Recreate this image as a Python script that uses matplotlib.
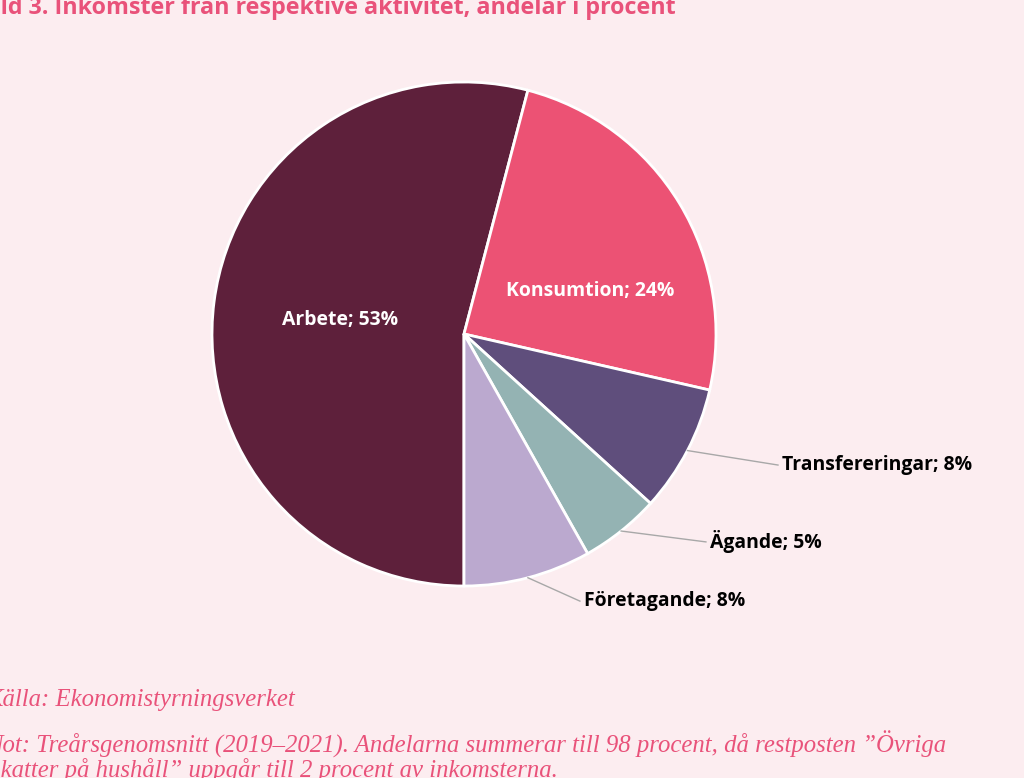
import numpy as np
import matplotlib.pyplot as plt

# Data (shares in percent, sum 98)
labels = ["Arbete", "Konsumtion", "Transfereringar", "Ägande", "Företagande"]
shares = [53, 24, 8, 5, 8]
colors = ["#5e203b", "#ec5274", "#5f4e7c", "#94b3b3", "#bba9cf"]

title = "Bild 3. Inkomster från respektive aktivitet, andelar i procent"
source = "Källa: Ekonomistyrningsverket"
note1 = "Not: Treårsgenomsnitt (2019–2021). Andelarna summerar till 98 procent, då restposten ”Övriga"
note2 = "skatter på hushåll” uppgår till 2 procent av inkomsterna."

bg = "#fcedf0"
pink = "#e9527a"

W, H = 1024, 778
fig = plt.figure(figsize=(W / 100, H / 100), dpi=100, facecolor=bg)
renderer = fig.canvas.get_renderer()


def text_width(s, **kw):
    t = fig.text(0, 0, s, **kw)
    w = t.get_window_extent(renderer).width
    t.remove()
    return w


def fit_size(s, target_px, base=12, **kw):
    # font size that gives the string the width seen in the reference
    return base * target_px / text_width(s, fontsize=base, **kw)


# pie centre at (464, 334) px, radius 252 px
cx, cy, r = 464, 334, 252
ax = fig.add_axes([(cx - r) / W, (H - cy - r) / H, 2 * r / W, 2 * r / H])
ax.set_facecolor(bg)
wedges, _ = ax.pie(shares, colors=colors, startangle=270, counterclock=False,
                   radius=1, wedgeprops=dict(edgecolor="white", linewidth=2))
ax.set_xlim(-1, 1)
ax.set_ylim(-1, 1)
ax.set_aspect("equal")
ax.axis("off")

lab_font = dict(family=["Open Sans", "DejaVu Sans"], fontweight="bold")
lab_font["fontsize"] = fit_size("Transfereringar; 8%", 190, **lab_font)

# inside labels (layout positions)
inside_pos = {"Arbete": (-0.49, 0.055), "Konsumtion": (0.50, 0.17)}
# outside labels: text anchor positions, leader lines start on the rim at mid angle
outside_pos = {"Transfereringar": (1.246, -0.52),
               "Ägande": (0.96, -0.825),
               "Företagande": (0.46, -1.06)}

for w, lab, val in zip(wedges, labels, shares):
    txt = f"{lab}; {val}%"
    if lab in inside_pos:
        x, y = inside_pos[lab]
        ax.text(x, y, txt, color="white", ha="center", va="center", **lab_font)
    else:
        mid = np.deg2rad((w.theta1 + w.theta2) / 2)
        x0, y0 = np.cos(mid), np.sin(mid)
        tx, ty = outside_pos[lab]
        ax.plot([x0, tx], [y0, ty], color="#a8a8a8", lw=1, clip_on=False)
        ax.text(tx + 0.015, ty, txt, color="black", ha="left", va="center",
                clip_on=False, **lab_font)


def clipped_text(s, cut, x_vis, y_base, **kw):
    # place text so that the prefix `cut` falls off the left edge of the canvas
    wcut = text_width(cut, **kw)
    fig.text((x_vis - wcut) / W, (H - y_base) / H, s, va="baseline", **kw)


title_font = dict(family=["Open Sans", "DejaVu Sans"], fontweight="bold", color=pink)
title_font["fontsize"] = fit_size(title, 674 + text_width("Bi", fontsize=17, **title_font), **title_font)
clipped_text(title, "Bi", 1, 14, **title_font)

foot_font = dict(family=["Liberation Serif", "DejaVu Serif"], style="italic",
                 fontsize=17.8, color=pink)
clipped_text(source, "K", 3, 706, **foot_font)
clipped_text(note1, "N", 3, 753, **foot_font)
clipped_text(note2, "s", 1, 777, **foot_font)

fig.savefig("out.png", dpi=100, facecolor=bg)
